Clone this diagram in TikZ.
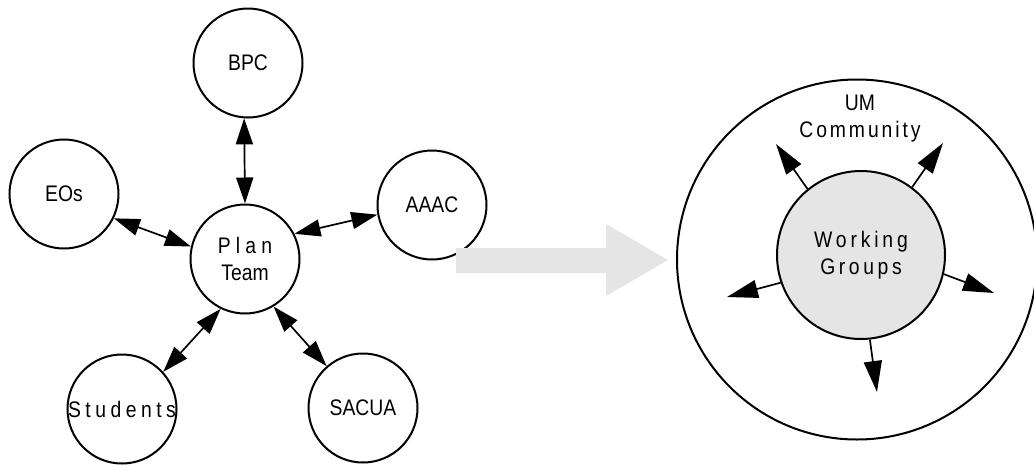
\documentclass[tikz,border=0pt]{standalone}
\usepackage{fontspec}
\setmainfont{Liberation Sans}[FakeStretch=0.86]
\newfontfamily\spaced[FakeStretch=0.86,LetterSpace=20]{Liberation Sans}
\usetikzlibrary{arrows.meta}

\begin{document}
\begin{tikzpicture}[x=1pt, y=-1pt,
  bubble/.style={draw, circle, line width=2pt, minimum size=109pt,
                 inner sep=0pt, align=center, font=\fontsize{22.5}{27}\selectfont},
  link/.style={{Triangle[length=26pt,width=17pt]}-{Triangle[length=26pt,width=17pt]},
               line width=1.7pt},
  spread/.style={-{Triangle[length=31pt,width=18pt]}, line width=1.7pt}
]
\useasboundingbox (0,0) rectangle (1034,464);

% planning side
\node[bubble] (plan) at (245,259) {{\spaced\addfontfeature{LetterSpace=23}Plan}\\Team};
\node[bubble] (bpc) at (248,63) {BPC};
\node[bubble] (eos) at (64,194) {EOs};
\node[bubble] (aaac) at (432,205) {AAAC};
\node[bubble, inner sep=-3pt] (students) at (122,409) {{\spaced Students}};
\node[bubble] (sacua) at (363,408) {SACUA};

\draw[link] (bpc.266) -- (plan.north);
\draw[link] (eos.-26) -- (plan.167);
\draw[link] (plan.27) -- (aaac.190);
\draw[link] (students.42) -- (plan.244);
\draw[link] (sacua.131) -- (plan.301);

% transition
\fill[gray!20] (456,248) -- (606,248) -- (606,224) -- (668,260)
  -- (606,296) -- (606,273) -- (456,273) -- cycle;

% community side
\node[draw, circle, line width=2pt, minimum size=360pt, inner sep=0pt]
  (community) at (857,259.5) {};
\node[font=\fontsize{22.5}{27}\selectfont, align=center] (umtext) at (860,119)
  {UM\\{\addfontfeature{LetterSpace=13}Community}};
\node[bubble, fill=gray!20, minimum size=168pt] (groups) at (861,255)
  {{\addfontfeature{LetterSpace=17}Working}\\{\addfontfeature{LetterSpace=16}Groups}};

\coordinate (tipnw) at (776,144);
\coordinate (tipne) at (943,143);
\coordinate (tipw) at (727,297);
\coordinate (tipe) at (994,293);
\coordinate (tips) at (877,392);

\draw[spread] (groups.129) -- (tipnw);
\draw[spread] (groups.53) -- (tipne);
\draw[spread] (groups.199) -- (tipw);
\draw[spread] (groups.-13) -- (tipe);
\draw[spread] (groups.276) -- (tips);
\end{tikzpicture}
\end{document}
